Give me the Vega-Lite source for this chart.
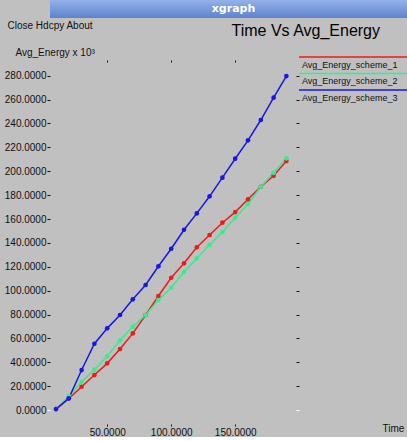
{
  "$schema": "https://vega.github.io/schema/vega-lite/v6.json",
  "background": "#c0c0c0",
  "padding": {"left": 4, "top": 0, "right": 0, "bottom": 0},
  "spacing": 2,
  "align": "none",
  "resolve": {"scale": {"color": "independent"}, "legend": {"color": "independent"}},
  "config": {"font": "Liberation Sans", "view": {"stroke": null}},
  "vconcat": [
    {
      "width": 407,
      "height": 18,
      "view": {"stroke": null, "fill": {"gradient": "linear", "x1": 0, "y1": 0, "x2": 0, "y2": 1, "stops": [{"offset": 0, "color": "#93b2ea"}, {"offset": 1, "color": "#5f82cc"}]}},
      "data": {"values": [{"t": "xgraph"}]},
      "mark": {"type": "text", "color": "white", "fontSize": 11, "fontWeight": "bold", "font": "DejaVu Sans", "dx": -20},
      "encoding": {"text": {"field": "t", "type": "nominal"}}
    },
    {
      "width": 246,
      "height": 362,
      "title": {"text": "Time Vs Avg_Energy", "anchor": "end", "frame": "group", "fontSize": 16, "fontWeight": "normal", "font": "Liberation Sans", "color": "black", "dx": 84, "dy": 18, "baseline": "middle", "offset": -9},
      "data": {"values": [
        {"time": 10, "energy": 0.8, "scheme": "Avg_Energy_scheme_1"},
        {"time": 20, "energy": 9.6, "scheme": "Avg_Energy_scheme_1"},
        {"time": 30, "energy": 19.5, "scheme": "Avg_Energy_scheme_1"},
        {"time": 40, "energy": 29.3, "scheme": "Avg_Energy_scheme_1"},
        {"time": 50, "energy": 39.1, "scheme": "Avg_Energy_scheme_1"},
        {"time": 60, "energy": 51.1, "scheme": "Avg_Energy_scheme_1"},
        {"time": 70, "energy": 64.2, "scheme": "Avg_Energy_scheme_1"},
        {"time": 80, "energy": 79.6, "scheme": "Avg_Energy_scheme_1"},
        {"time": 90, "energy": 95.5, "scheme": "Avg_Energy_scheme_1"},
        {"time": 100, "energy": 110.8, "scheme": "Avg_Energy_scheme_1"},
        {"time": 110, "energy": 122.9, "scheme": "Avg_Energy_scheme_1"},
        {"time": 120, "energy": 136.3, "scheme": "Avg_Energy_scheme_1"},
        {"time": 130, "energy": 146.6, "scheme": "Avg_Energy_scheme_1"},
        {"time": 140, "energy": 156.9, "scheme": "Avg_Energy_scheme_1"},
        {"time": 150, "energy": 165.8, "scheme": "Avg_Energy_scheme_1"},
        {"time": 160, "energy": 176.5, "scheme": "Avg_Energy_scheme_1"},
        {"time": 170, "energy": 187.0, "scheme": "Avg_Energy_scheme_1"},
        {"time": 180, "energy": 196.2, "scheme": "Avg_Energy_scheme_1"},
        {"time": 190, "energy": 208.5, "scheme": "Avg_Energy_scheme_1"},
        {"time": 10, "energy": 0.8, "scheme": "Avg_Energy_scheme_2"},
        {"time": 20, "energy": 11.7, "scheme": "Avg_Energy_scheme_2"},
        {"time": 30, "energy": 23.7, "scheme": "Avg_Energy_scheme_2"},
        {"time": 40, "energy": 33.8, "scheme": "Avg_Energy_scheme_2"},
        {"time": 50, "energy": 45.0, "scheme": "Avg_Energy_scheme_2"},
        {"time": 60, "energy": 58.4, "scheme": "Avg_Energy_scheme_2"},
        {"time": 70, "energy": 69.8, "scheme": "Avg_Energy_scheme_2"},
        {"time": 80, "energy": 79.6, "scheme": "Avg_Energy_scheme_2"},
        {"time": 90, "energy": 92.1, "scheme": "Avg_Energy_scheme_2"},
        {"time": 100, "energy": 102.4, "scheme": "Avg_Energy_scheme_2"},
        {"time": 110, "energy": 115.6, "scheme": "Avg_Energy_scheme_2"},
        {"time": 120, "energy": 127.1, "scheme": "Avg_Energy_scheme_2"},
        {"time": 130, "energy": 138.2, "scheme": "Avg_Energy_scheme_2"},
        {"time": 140, "energy": 149.1, "scheme": "Avg_Energy_scheme_2"},
        {"time": 150, "energy": 161.1, "scheme": "Avg_Energy_scheme_2"},
        {"time": 160, "energy": 172.5, "scheme": "Avg_Energy_scheme_2"},
        {"time": 170, "energy": 187.0, "scheme": "Avg_Energy_scheme_2"},
        {"time": 180, "energy": 198.7, "scheme": "Avg_Energy_scheme_2"},
        {"time": 190, "energy": 210.8, "scheme": "Avg_Energy_scheme_2"},
        {"time": 10, "energy": 0.8, "scheme": "Avg_Energy_scheme_3"},
        {"time": 20, "energy": 9.8, "scheme": "Avg_Energy_scheme_3"},
        {"time": 30, "energy": 33.5, "scheme": "Avg_Energy_scheme_3"},
        {"time": 40, "energy": 55.5, "scheme": "Avg_Energy_scheme_3"},
        {"time": 50, "energy": 68.4, "scheme": "Avg_Energy_scheme_3"},
        {"time": 60, "energy": 79.6, "scheme": "Avg_Energy_scheme_3"},
        {"time": 70, "energy": 92.7, "scheme": "Avg_Energy_scheme_3"},
        {"time": 80, "energy": 104.7, "scheme": "Avg_Energy_scheme_3"},
        {"time": 90, "energy": 120.4, "scheme": "Avg_Energy_scheme_3"},
        {"time": 100, "energy": 135.1, "scheme": "Avg_Energy_scheme_3"},
        {"time": 110, "energy": 151.0, "scheme": "Avg_Energy_scheme_3"},
        {"time": 120, "energy": 164.7, "scheme": "Avg_Energy_scheme_3"},
        {"time": 130, "energy": 179.0, "scheme": "Avg_Energy_scheme_3"},
        {"time": 140, "energy": 194.6, "scheme": "Avg_Energy_scheme_3"},
        {"time": 150, "energy": 210.5, "scheme": "Avg_Energy_scheme_3"},
        {"time": 160, "energy": 225.9, "scheme": "Avg_Energy_scheme_3"},
        {"time": 170, "energy": 242.9, "scheme": "Avg_Energy_scheme_3"},
        {"time": 180, "energy": 261.6, "scheme": "Avg_Energy_scheme_3"},
        {"time": 190, "energy": 279.7, "scheme": "Avg_Energy_scheme_3"}
      ]},
      "resolve": {"axis": {"x": "independent", "y": "independent"}},
      "layer": [
        {
          "mark": {"type": "line", "strokeWidth": 1.5},
          "encoding": {
            "x": {"field": "time", "type": "quantitative",
              "scale": {"domain": [5.3, 197.5], "nice": false, "zero": false},
              "axis": {"orient": "bottom", "values": [50, 100, 150], "format": ".4f", "title": "Time",
                "titleX": 332, "titleY": 4, "titleAlign": "left", "titleBaseline": "middle", "titleAngle": 0,
                "titleFontSize": 10, "titleFontWeight": "normal", "titleColor": "#111",
                "labelFontSize": 10, "labelColor": "#111", "labelPadding": 1, "labelFlush": false, "labelOverlap": false,
                "tickSize": 2, "tickColor": "#111", "domain": false, "grid": false}},
            "y": {"field": "energy", "type": "quantitative",
              "scale": {"domain": [-11.7, 291.5], "nice": false, "zero": false},
              "axis": {"orient": "left", "values": [0, 20, 40, 60, 80, 100, 120, 140, 160, 180, 200, 220, 240, 260, 280], "format": ".4f",
                "title": "Avg_Energy x 10³", "titleAngle": 0, "titleX": -35, "titleY": -10, "titleAlign": "left", "titleBaseline": "middle",
                "titleFontSize": 10, "titleFontWeight": "normal", "titleColor": "#111",
                "labelFontSize": 10, "labelColor": "#111", "labelPadding": 1, "labelOverlap": false, "labelFlush": false,
                "tickSize": 3, "tickColor": {"condition": {"test": "datum.value === 0", "value": "white"}, "value": "#111"},
                "domain": false, "grid": false}},
            "color": {"field": "scheme", "type": "nominal",
              "scale": {"domain": ["Avg_Energy_scheme_1", "Avg_Energy_scheme_2", "Avg_Energy_scheme_3"], "range": ["#ee1a1a", "#33ee8c", "#1616e8"]},
              "legend": {"orient": "none", "legendX": 248, "legendY": -3.5, "title": null,
                "symbolType": "M -1 -1.5 L 22 -1.5", "symbolSize": 100, "symbolStrokeWidth": 1.5,
                "labelFontSize": 9, "labelColor": "#111", "labelOffset": -8, "rowPadding": 0.5, "padding": 0}}
          }
        },
        {
          "mark": {"type": "point", "filled": true, "size": 22, "opacity": 1, "shape": "circle"},
          "encoding": {
            "x": {"field": "time", "type": "quantitative",
              "axis": {"orient": "top", "values": [50, 100, 150], "labels": false, "tickSize": 2, "tickColor": "#111", "domain": false, "grid": false,
                "title": "Close Hdcpy About", "titleX": -43, "titleY": -37, "titleAngle": 0, "titleAlign": "left", "titleBaseline": "middle",
                "titleFontSize": 10, "titleFontWeight": "normal", "titleColor": "#111"}},
            "y": {"field": "energy", "type": "quantitative",
              "axis": {"orient": "right", "values": [0, 20, 40, 60, 80, 100, 120, 140, 160, 180, 200, 220, 240, 260, 280], "labels": false,
                "tickSize": 3, "tickColor": {"condition": {"test": "datum.value === 0", "value": "white"}, "value": "#111"},
                "domain": false, "grid": false, "title": null}},
            "color": {"field": "scheme", "type": "nominal", "legend": null}
          }
        }
      ]
    }
  ]
}
